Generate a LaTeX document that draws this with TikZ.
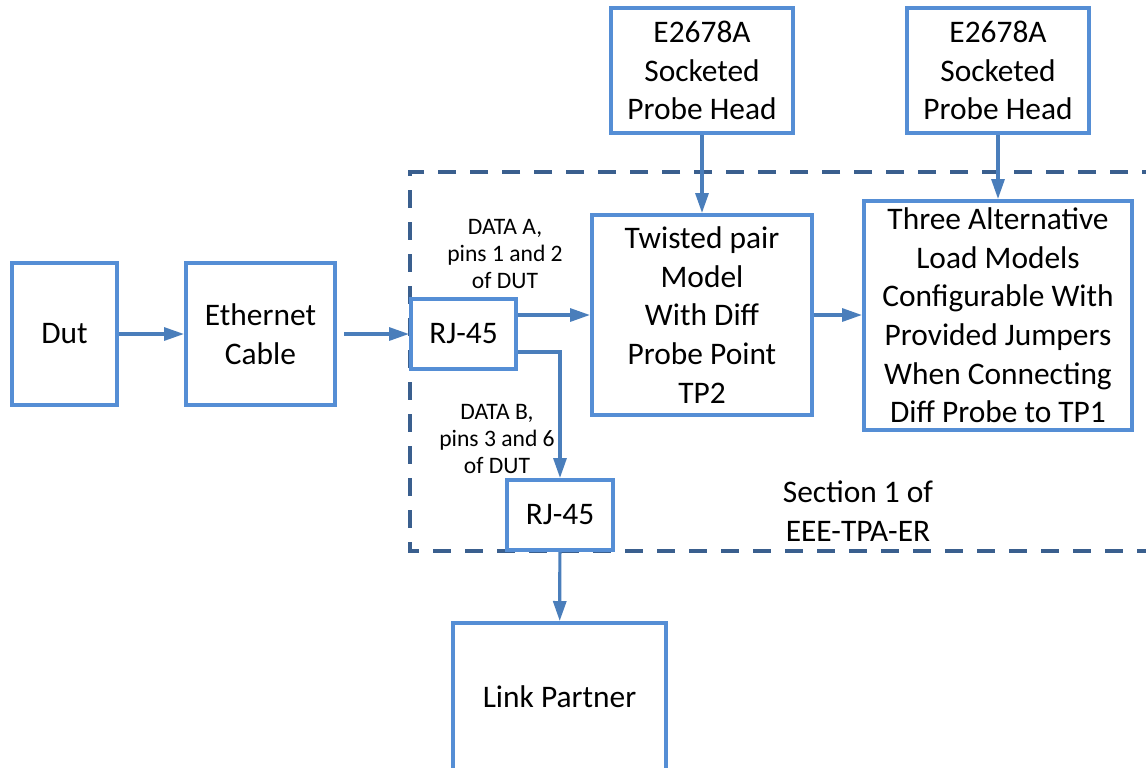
\documentclass[tikz,border=0pt]{standalone}
\usepackage{fontspec}
\setmainfont{Carlito}
\usetikzlibrary{arrows.meta}
\definecolor{boxblue}{HTML}{558ED5}
\definecolor{arrowblue}{HTML}{4A7EBB}
\definecolor{dashblue}{HTML}{3A5F8E}
\begin{document}
\begin{tikzpicture}[x=0.5pt,y=-0.5pt,
  blk/.style={draw=boxblue,line width=2pt,fill=white,inner sep=1pt,align=center,font=\fontsize{15.7}{19.3}\selectfont},
  lbl/.style={inner sep=1pt,align=center,font=\fontsize{11.8}{13.5}\selectfont},
  flow/.style={draw=arrowblue,line width=1.6pt,-{Triangle[length=10pt,width=6.5pt]}},
  section/.style={draw=dashblue,line width=2.2pt,dash pattern=on 9pt off 7pt}]
\clip (0,0) rectangle (1146,767);
\draw[section] (1160,172) -- (410,172) -- (410,551) -- (1160,551);
\node[blk,minimum width=52.5pt,minimum height=71pt] (dut) at (64.5,334) {Dut};
\node[blk,minimum width=74.5pt,minimum height=71pt] (cable) at (260.5,334) {Ethernet\\Cable};
\node[blk,minimum width=52.5pt,minimum height=35pt] (rjA) at (463.5,334) {RJ-45};
\node[blk,minimum width=110pt,minimum height=100pt] (twpair) at (702,315) {Twisted pair\\Model\\With Diff\\Probe Point\\TP2};
\node[blk,minimum width=134pt,minimum height=114.5pt] (loadm) at (998,315.5) {Three Alternative\\Load Models\\Configurable With\\Provided Jumpers\\When Connecting\\Diff Probe to TP1};
\node[blk,minimum width=91pt,minimum height=62.5pt] (headA) at (702,70.5) {E2678A\\Socketed\\Probe Head};
\node[blk,minimum width=91pt,minimum height=62.5pt] (headB) at (998,70.5) {E2678A\\Socketed\\Probe Head};
\node[blk,minimum width=53pt,minimum height=35pt] (rjB) at (560,515) {RJ-45};
\node[blk,minimum width=106.5pt,minimum height=74pt] (link) at (559.5,697) {Link Partner};
\node[lbl] (dataA) at (505,254) {DATA A,\\pins 1 and 2\\of DUT};
\node[lbl] (dataB) at (497,439) {DATA B,\\pins 3 and 6\\of DUT};
\node[inner sep=1pt,align=center,font=\fontsize{15.7}{19.3}\selectfont] (secname) at (858,511) {Section 1 of\\EEE-TPA-ER};
\draw[flow] (dut) -- (cable);
\draw[flow,shorten <=3.5pt] (cable) -- (rjA);
\draw[flow] (rjA.east |- twpair) -- (twpair);
\draw[flow] (twpair.east) -- (twpair.east -| loadm.west);
\draw[flow] ([yshift=-9pt]rjA.east) -| (rjB);
\draw[flow] (headA) -- (twpair);
\draw[flow] (headB) -- (headB |- loadm.north);
\draw[flow] (rjB) -- (link);
\end{tikzpicture}
\end{document}
